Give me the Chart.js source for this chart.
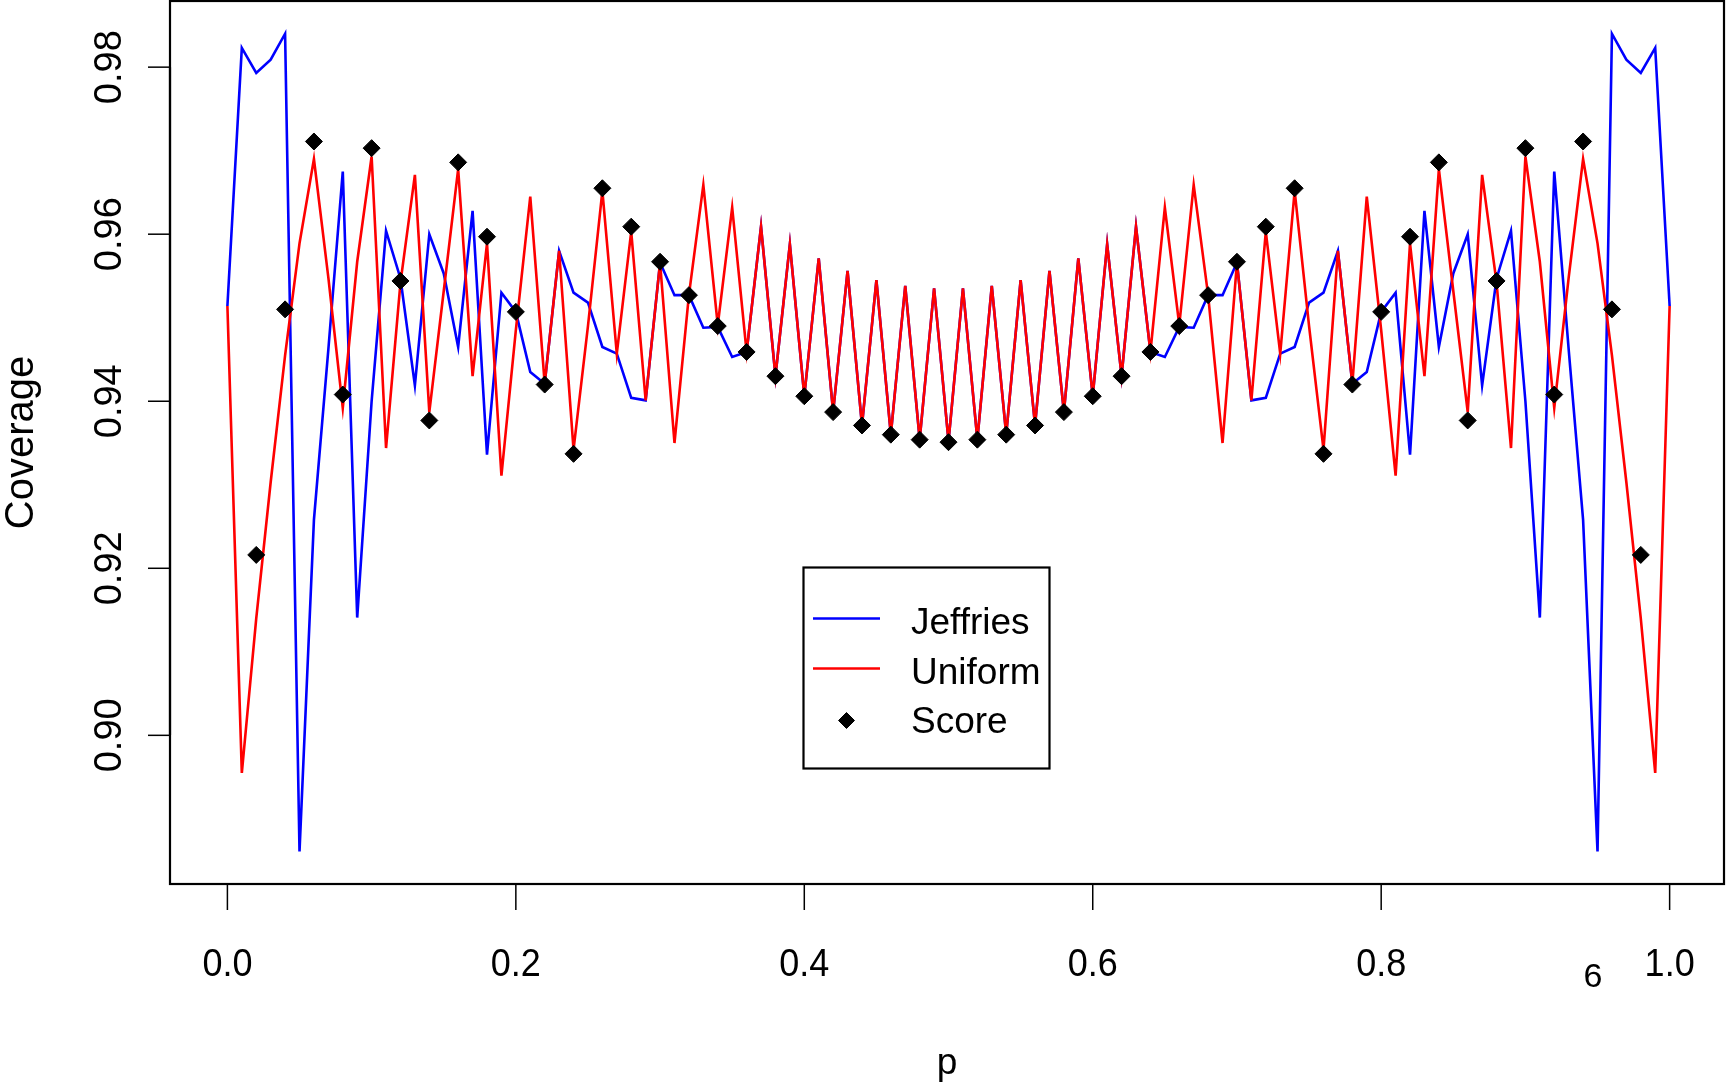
<!DOCTYPE html>
<html><head><meta charset="utf-8">
<script src="https://cdn.jsdelivr.net/npm/chart.js@4.4.1/dist/chart.umd.min.js"></script>
<style>html,body{margin:0;padding:0;background:#fff}#wrap{width:1726px;height:1086px}</style>
</head><body><div id="wrap"><canvas id="c" width="1726" height="1086"></canvas></div>
<script>
const pGrid = [0.00,0.01,0.02,0.03,0.04,0.05,0.06,0.07,0.08,0.09,0.10,0.11,0.12,0.13,0.14,0.15,0.16,0.17,0.18,0.19,
0.20,0.21,0.22,0.23,0.24,0.25,0.26,0.27,0.28,0.29,0.30,0.31,0.32,0.33,0.34,0.35,0.36,0.37,0.38,0.39,
0.40,0.41,0.42,0.43,0.44,0.45,0.46,0.47,0.48,0.49,0.50,0.51,0.52,0.53,0.54,0.55,0.56,0.57,0.58,0.59,
0.60,0.61,0.62,0.63,0.64,0.65,0.66,0.67,0.68,0.69,0.70,0.71,0.72,0.73,0.74,0.75,0.76,0.77,0.78,0.79,
0.80,0.81,0.82,0.83,0.84,0.85,0.86,0.87,0.88,0.89,0.90,0.91,0.92,0.93,0.94,0.95,0.96,0.97,0.98,0.99,1.00];

const jeffries = [0.9514,0.9823,0.9793,0.9809,0.9840,0.8861,0.9258,0.9462,0.9675,0.9141,
0.9400,0.9604,0.9547,0.9419,0.9600,0.9553,0.9465,0.9628,0.9336,0.9530,
0.9507,0.9435,0.9421,0.9580,0.9530,0.9518,0.9465,0.9457,0.9404,0.9401,
0.9566,0.9527,0.9527,0.9488,0.9489,0.9453,0.9459,0.9609,0.9430,0.9588,
0.9406,0.9571,0.9387,0.9556,0.9371,0.9545,0.9360,0.9538,0.9354,0.9535,
0.9352,
0.9535,0.9354,0.9538,0.9360,0.9545,0.9371,0.9556,0.9387,0.9571,0.9406,
0.9588,0.9430,0.9609,0.9459,0.9453,0.9489,0.9488,0.9527,0.9527,0.9566,
0.9401,0.9404,0.9457,0.9465,0.9518,0.9530,0.9580,0.9421,0.9435,0.9507,
0.9530,0.9336,0.9628,0.9465,0.9553,0.9600,0.9419,0.9547,0.9604,0.9400,
0.9141,0.9675,0.9462,0.9258,0.8861,0.9840,0.9809,0.9793,0.9823,0.9514];

const uniform = [0.9514,0.8955,0.9140,0.9303,0.9455,0.9589,0.9690,0.9548,0.9392,0.9567,
0.9693,0.9344,0.9542,0.9671,0.9387,0.9532,0.9678,0.9430,0.9589,0.9311,
0.9485,0.9645,0.9421,0.9580,0.9342,0.9490,0.9652,0.9457,0.9603,0.9401,
0.9566,0.9350,0.9527,0.9659,0.9491,0.9632,0.9459,0.9609,0.9430,0.9588,
0.9406,0.9571,0.9387,0.9556,0.9371,0.9545,0.9360,0.9538,0.9354,0.9535,
0.9352,
0.9535,0.9354,0.9538,0.9360,0.9545,0.9371,0.9556,0.9387,0.9571,0.9406,
0.9588,0.9430,0.9609,0.9459,0.9632,0.9491,0.9659,0.9527,0.9350,0.9566,
0.9401,0.9603,0.9457,0.9652,0.9490,0.9342,0.9580,0.9421,0.9645,0.9485,
0.9311,0.9589,0.9430,0.9678,0.9532,0.9387,0.9671,0.9542,0.9344,0.9693,
0.9567,0.9392,0.9548,0.9690,0.9589,0.9455,0.9303,0.9140,0.8955,0.9514];

const scoreP = [0.02,0.04,0.06,0.08,0.10,0.12,0.14,0.16,0.18,0.20,0.22,0.24,0.26,0.28,0.30,0.32,0.34,0.36,0.38,0.40,
0.42,0.44,0.46,0.48,0.50,0.52,0.54,0.56,0.58,0.60,0.62,0.64,0.66,0.68,0.70,0.72,0.74,0.76,0.78,0.80,
0.82,0.84,0.86,0.88,0.90,0.92,0.94,0.96,0.98];
const score = [0.9216,0.9510,0.9711,0.9408,0.9703,0.9544,0.9377,0.9686,0.9597,0.9507,
0.9420,0.9337,0.9655,0.9609,0.9567,0.9527,0.9490,0.9459,0.9430,0.9406,
0.9387,0.9371,0.9360,0.9354,0.9351,0.9354,0.9360,0.9371,0.9387,0.9406,
0.9430,0.9459,0.9490,0.9527,0.9567,0.9609,0.9655,0.9337,0.9420,0.9507,
0.9597,0.9686,0.9377,0.9544,0.9703,0.9408,0.9711,0.9510,0.9216];

const xTickValues = [0.0,0.2,0.4,0.6,0.8,1.0];
const xTickLabels = ['0.0','0.2','0.4','0.6','0.8','1.0'];
const yTickValues = [0.90,0.92,0.94,0.96,0.98];
const yTickLabels = ['0.90','0.92','0.94','0.96','0.98'];
const seriesNames = ['Jeffries','Uniform','Score'];
const xTitle = 'p';
const yTitle = 'Coverage';
const strayText = '6';

const FONT = '"Liberation Sans", Arial, Helvetica, sans-serif';

const decor = {
  id: 'rdecor',
  afterDraw(chart) {
    const ctx = chart.ctx;
    const a = chart.chartArea;
    const xs = chart.scales.x, ys = chart.scales.y;
    ctx.save();
    ctx.strokeStyle = '#000';
    ctx.fillStyle = '#000';
    // frame
    ctx.lineWidth = 2.2;
    ctx.strokeRect(a.left, a.top, a.right - a.left, a.bottom - a.top);
    // x ticks
    ctx.lineWidth = 1.5;
    ctx.font = '36px ' + FONT;
    ctx.textAlign = 'center';
    ctx.textBaseline = 'alphabetic';
    xTickValues.forEach((v, i) => {
      const px = xs.getPixelForValue(v);
      ctx.beginPath(); ctx.moveTo(px, a.bottom); ctx.lineTo(px, a.bottom + 26); ctx.stroke();
      ctx.save();
      ctx.translate(px, 976);
      ctx.scale(1.0, 1.08);
      ctx.fillText(xTickLabels[i], 0, 0);
      ctx.restore();
    });
    // axis lines along ticks
    ctx.lineWidth = 2.2;
    ctx.beginPath(); ctx.moveTo(xs.getPixelForValue(0), a.bottom); ctx.lineTo(xs.getPixelForValue(1), a.bottom); ctx.stroke();
    ctx.beginPath(); ctx.moveTo(a.left, ys.getPixelForValue(0.90)); ctx.lineTo(a.left, ys.getPixelForValue(0.98)); ctx.stroke();
    // y ticks
    ctx.lineWidth = 1.5;
    ctx.font = '38px ' + FONT;
    yTickValues.forEach((v, i) => {
      const py = ys.getPixelForValue(v);
      ctx.beginPath(); ctx.moveTo(a.left, py); ctx.lineTo(a.left - 22, py); ctx.stroke();
      ctx.save();
      ctx.translate(121, py);
      ctx.rotate(-Math.PI / 2);
      ctx.fillText(yTickLabels[i], 0, 0);
      ctx.restore();
    });
    // titles
    ctx.font = '37px ' + FONT;
    ctx.fillText(xTitle, (a.left + a.right) / 2, 1074);
    ctx.save();
    ctx.font = '40px ' + FONT;
    ctx.translate(33, (a.top + a.bottom) / 2);
    ctx.rotate(-Math.PI / 2);
    ctx.fillText(yTitle, 0, 0);
    ctx.restore();
    // stray label
    ctx.font = '34px ' + FONT;
    ctx.fillText(strayText, 1593, 987);
    // legend
    const L = {x: 803.5, y: 567.5, w: 246, h: 201};
    ctx.lineWidth = 2.2;
    ctx.strokeRect(L.x, L.y, L.w, L.h);
    const ds = chart.data.datasets;
    const rows = [618.5, 668.5, 720.5];
    const bases = [634, 684, 733];
    ctx.font = '37px ' + FONT;
    ctx.textAlign = 'left';
    for (let i = 0; i < 3; i++) {
      if (i < 2) {
        ctx.strokeStyle = ds[i].borderColor;
        ctx.lineWidth = 2.5;
        ctx.beginPath(); ctx.moveTo(813, rows[i]); ctx.lineTo(880, rows[i]); ctx.stroke();
      } else {
        ctx.strokeStyle = '#000';
        ctx.fillStyle = '#000';
        ctx.lineWidth = 1;
        Chart.helpers.drawPoint(ctx, {pointStyle: 'rectRot', radius: 8, borderWidth: 1}, 846.5, rows[i]);
      }
      ctx.fillStyle = '#000';
      ctx.fillText(seriesNames[i], 911, bases[i]);
    }
    ctx.restore();
  }
};

const toXY = (xsArr, ysArr) => xsArr.map((x, i) => ({x: x, y: ysArr[i]}));

new Chart(document.getElementById('c'), {
  type: 'line',
  data: {
    datasets: [
      {label: seriesNames[0], data: toXY(pGrid, jeffries), borderColor: '#0000ff', backgroundColor: '#0000ff',
       borderWidth: 2.6, pointRadius: 0, tension: 0, fill: false, order: 3},
      {label: seriesNames[1], data: toXY(pGrid, uniform), borderColor: '#ff0000', backgroundColor: '#ff0000',
       borderWidth: 2.6, pointRadius: 0, tension: 0, fill: false, order: 2},
      {label: seriesNames[2], type: 'scatter', data: toXY(scoreP, score), showLine: false,
       pointStyle: 'rectRot', pointRadius: 8.5, pointBorderWidth: 1, borderColor: '#000', backgroundColor: '#000', order: 1}
    ]
  },
  options: {
    responsive: false,
    animation: false,
    devicePixelRatio: 1,
    events: [],
    layout: {autoPadding: false, padding: {left: 170, right: 2, top: 1, bottom: 202}},
    scales: {
      x: {type: 'linear', min: -0.0398, max: 1.0377, display: false},
      y: {type: 'linear', min: 0.88220, max: 0.98792, display: false}
    },
    plugins: {legend: {display: false}, tooltip: {enabled: false}}
  },
  plugins: [decor]
});
</script>
</body></html>
